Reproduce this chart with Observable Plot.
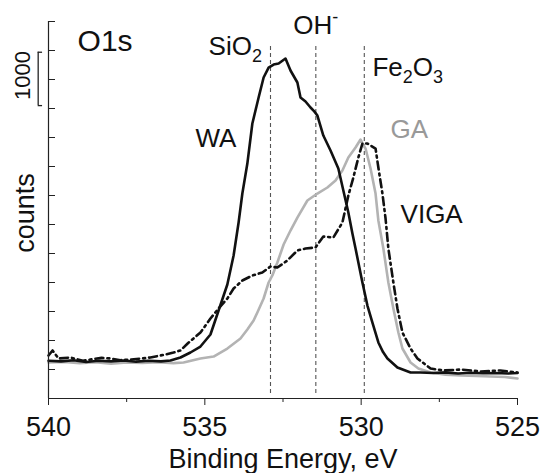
<!DOCTYPE html>
<html><head><meta charset="utf-8">
<script src="https://cdn.jsdelivr.net/npm/d3@7"></script>
<script src="https://cdn.jsdelivr.net/npm/@observablehq/plot@0.6"></script>
<style>body{margin:0;background:#fff} svg{display:block}</style>
</head><body><div id="chart"></div>
<script>
// ---- data (binding energy in eV, intensity in counts) ----
const waEV = [540.0, 539.6, 539.2, 538.8, 538.4, 538.0, 537.6, 537.2, 536.8, 536.4, 536.1, 535.78, 535.46, 535.14, 534.82, 534.56, 534.28, 534.08, 533.92, 533.80, 533.64, 533.48, 533.28, 533.12, 532.96, 532.80, 532.64, 532.42, 532.26, 532.04, 531.94, 531.78, 531.62, 531.50, 531.40, 531.21, 530.98, 530.73, 530.57, 530.41, 530.28, 530.18, 529.96, 529.80, 529.64, 529.45, 529.30, 529.16, 528.84, 528.42, 528.10, 527.7, 527.3, 526.9, 526.5, 526.1, 525.7, 525.3, 525.0];
const waCounts = [650, 640, 660, 630, 650, 640, 655, 635, 650, 640, 655, 707, 793, 896, 1103, 1517, 1965, 2465, 3034, 3534, 4051, 4741, 5189, 5534, 5706, 5758, 5776, 5862, 5655, 5448, 5189, 5120, 5017, 4950, 4879, 4534, 4276, 3965, 3586, 3207, 2845, 2586, 2000, 1603, 1310, 966, 800, 690, 534, 448, 448, 440, 450, 430, 445, 435, 440, 430, 440];

const gaEV = [540.0, 539.5, 539.0, 538.5, 538.0, 537.5, 537.0, 536.5, 536.0, 535.68, 535.14, 534.72, 534.28, 533.86, 533.64, 533.44, 533.32, 533.12, 532.96, 532.84, 532.68, 532.48, 532.26, 532.04, 531.72, 531.40, 531.08, 530.82, 530.60, 530.41, 530.18, 530.02, 529.86, 529.70, 529.54, 529.45, 529.29, 529.13, 528.97, 528.81, 528.68, 528.42, 528.17, 527.78, 527.3, 526.82, 526.3, 525.86, 525.4, 525.0];
const gaCounts = [620, 630, 610, 625, 600, 620, 615, 625, 610, 621, 690, 724, 862, 1034, 1190, 1345, 1483, 1724, 2000, 2121, 2345, 2655, 2896, 3120, 3414, 3534, 3638, 3758, 3931, 4155, 4327, 4465, 4310, 3965, 3534, 3069, 2586, 2000, 1552, 1138, 862, 621, 517, 448, 410, 397, 390, 379, 370, 345];

const vigaEV = [540.0, 539.87, 539.68, 539.3, 538.9, 538.66, 538.3, 538.02, 537.7, 537.38, 537.0, 536.74, 536.26, 536.0, 535.78, 535.55, 535.14, 534.82, 534.56, 534.28, 534.08, 533.80, 533.48, 533.16, 532.90, 532.68, 532.36, 532.04, 531.78, 531.46, 531.21, 530.89, 530.60, 530.41, 530.25, 530.09, 529.96, 529.80, 529.54, 529.45, 529.32, 529.22, 529.13, 528.97, 528.84, 528.68, 528.42, 528.20, 527.78, 527.37, 526.82, 526.18, 525.55, 525.0];
const vigaCounts = [741, 828, 690, 707, 650, 672, 700, 690, 660, 672, 690, 707, 759, 793, 828, 948, 1138, 1379, 1552, 1724, 1896, 2034, 2121, 2172, 2276, 2258, 2379, 2552, 2586, 2603, 2793, 2776, 3034, 3500, 3810, 4155, 4396, 4396, 4310, 3982, 3534, 3103, 2586, 2000, 1552, 1138, 862, 690, 517, 483, 500, 466, 483, 448];

const refPeaks = [532.9, 531.45, 529.9];          // SiO2, OH-, Fe2O3 reference energies
const xTicks = [540, 535, 530, 525];
const xMinorTicks = [537.5, 532.5, 527.5];
const yTicks = d3.range(0, 6501, 500);
const scaleBar = [5050, 5970];                    // "1000" counts bracket

// annotation texts
const labelText = ["O1s", "SiO2", "OH-", "Fe2O3", "WA", "VIGA"];
const labelEV = [539.07, 534.88, 532.17, 529.64, 535.30, 528.74];
const labelCounts = [6000, 5914, 6293, 5552, 4328, 3034];

// ---- build tables ----
const mk = (ev, c) => ev.map((e, i) => ({ev: e, c: c[i]}));
const wa = mk(waEV, waCounts), ga = mk(gaEV, gaCounts), viga = mk(vigaEV, vigaCounts);

const font = "'Liberation Sans', Arial, Helvetica, sans-serif";
const plot = Plot.plot({
  width: 541, height: 473,
  marginLeft: 48, marginRight: 24, marginTop: 21, marginBottom: 75,
  x: {domain: [540, 525]},
  y: {domain: [0, 6500]},
  style: {fontFamily: font, background: "#fff", color: "#111", overflow: "visible"},
  marks: [
    Plot.ruleX(refPeaks, {x: d => d, y1: 86, y2: 6086, stroke: "#555", strokeWidth: 1.1, strokeDasharray: "4,3"}),
    Plot.line(ga, {x: "ev", y: "c", stroke: "#b3b3b3", strokeWidth: 2.6, strokeLinejoin: "round"}),
    Plot.line(viga, {x: "ev", y: "c", stroke: "#111", strokeWidth: 2.6, strokeDasharray: "8,4,2,4", strokeLinejoin: "round"}),
    Plot.line(wa, {x: "ev", y: "c", stroke: "#111", strokeWidth: 2.6, strokeLinejoin: "round"}),
    Plot.ruleX([540], {stroke: "#222", strokeWidth: 1.2}),
    Plot.ruleY([0], {stroke: "#222", strokeWidth: 1.2}),
    Plot.axisY({ticks: yTicks, tickSize: 7, dx: 7, tickFormat: () => "", label: null, stroke: "#222"}),
    Plot.axisX({ticks: xTicks, tickSize: 7, tickPadding: 11, fontSize: 27, tickFormat: d => String(d), label: null, stroke: "#222", fill: "#111"}),
    Plot.axisX({ticks: xMinorTicks, tickSize: 4, tickFormat: () => "", label: null, stroke: "#222"}),
    // scale bracket
    Plot.ruleX([540.33], {y1: scaleBar[0], y2: scaleBar[1], stroke: "#222", strokeWidth: 1.3}),
    Plot.ruleY(scaleBar, {y: d => d, x1: 540.33, x2: 540.19, stroke: "#222", strokeWidth: 1.3}),
    Plot.text(["1000"], {x: 540.58, y: 5570, text: d => d, rotate: -90, lineAnchor: "bottom", textAnchor: "middle", fontSize: 22, fill: "#111"}),
    // axis titles
    Plot.text(["Binding Energy, eV"], {frameAnchor: "bottom", dy: 69, text: d => d, lineAnchor: "bottom", textAnchor: "middle", fontSize: 27, fill: "#111"}),
    Plot.text(["counts"], {frameAnchor: "left", dx: -15, dy: 3, text: d => d, rotate: -90, lineAnchor: "bottom", textAnchor: "middle", fontSize: 27, fill: "#111"}),
    // annotations
    Plot.text(labelText, {x: (d, i) => labelEV[i], y: (d, i) => labelCounts[i], text: d => d, textAnchor: "start", lineAnchor: "bottom", fontSize: d => d === "O1s" ? 30 : 26, fill: "#111"}),
    Plot.text(["GA"], {x: 529.06, y: 4500, text: d => d, textAnchor: "start", lineAnchor: "bottom", fontSize: 26, fill: "#999"})
  ]
});

// chemical formula subscripts / superscript
const rich = {
  "SiO2": [["SiO", 0], ["2", 1]],
  "Fe2O3": [["Fe", 0], ["2", 1], ["O", 0], ["3", 1]],
  "OH-": [["OH", 0], ["-", -1]]
};
d3.select(plot).selectAll("text").each(function() {
  const parts = rich[this.textContent];
  if (!parts) return;
  this.textContent = "";
  let shift = 0;
  for (const [s, k] of parts) {
    const target = k === 1 ? 7 : k === -1 ? -11 : 0;
    const ts = d3.select(this).append("tspan").text(s).attr("dy", target - shift);
    if (k) ts.attr("font-size", 18);
    shift = target;
  }
});
document.getElementById("chart").append(plot);
</script>
</body></html>
